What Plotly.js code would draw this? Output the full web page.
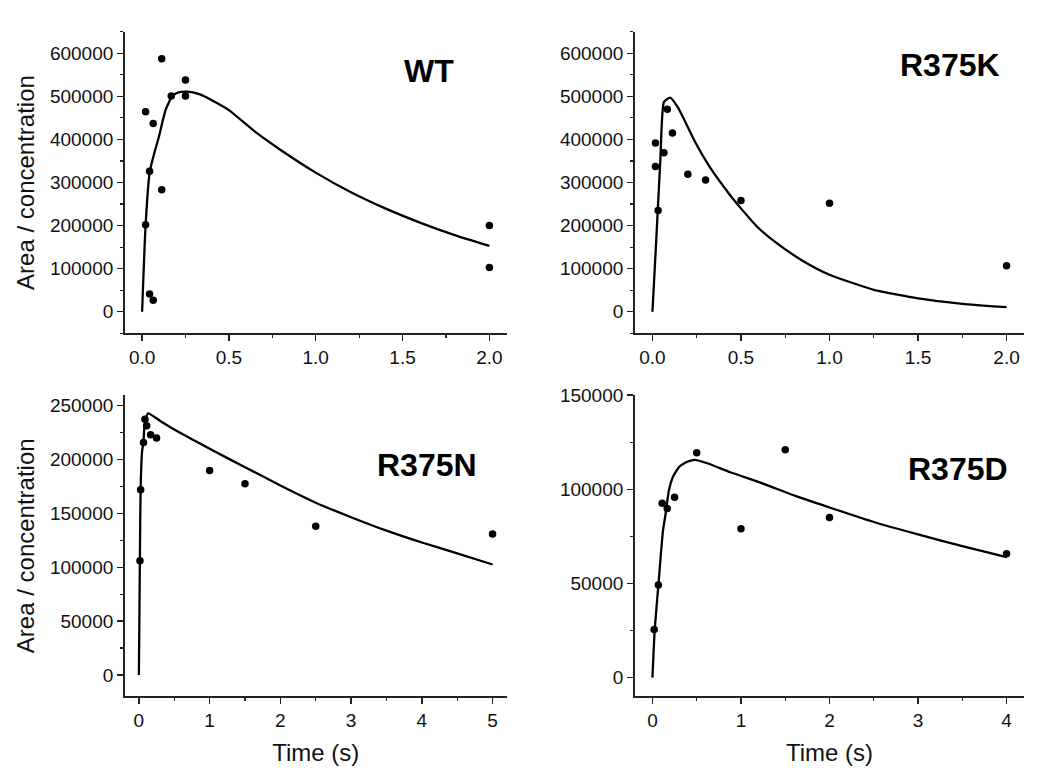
<!DOCTYPE html>
<html>
<head>
<meta charset="utf-8">
<script src="https://cdn.plot.ly/plotly-3.0.1.min.js"></script>
<style>html,body{margin:0;padding:0;background:#fff;}#chart{width:1050px;height:783px;}</style>
</head>
<body>
<div id="chart"></div>
<script>
// ---- WT ----
var wtTime  = [0.02, 0.02, 0.043, 0.043, 0.064, 0.064, 0.113, 0.113, 0.168, 0.25, 0.25, 2.0, 2.0];
var wtValue = [464000, 202000, 326000, 41000, 437000, 27000, 587000, 283000, 501000, 538000, 501000, 200000, 103000];
var wtFitTime  = [0, 0.02, 0.044, 0.07, 0.096, 0.135, 0.173, 0.21, 0.26, 0.33, 0.42, 0.5, 0.65, 0.8, 1.0, 1.2, 1.4, 1.6, 1.8, 2.0];
var wtFitValue = [0, 200000, 325000, 368000, 405000, 468000, 500000, 509000, 511000, 505000, 487000, 468000, 418000, 375000, 323000, 278000, 240000, 207000, 178000, 153000];

// ---- R375K ----
var kTime  = [0.017, 0.017, 0.032, 0.065, 0.084, 0.113, 0.2, 0.3, 0.5, 1.0, 2.0];
var kValue = [392000, 337000, 235000, 369000, 470000, 415000, 319000, 306000, 258000, 252000, 107000];
var kFitTime  = [0, 0.015, 0.03, 0.045, 0.065, 0.1, 0.143, 0.19, 0.236, 0.33, 0.44, 0.5, 0.59, 0.7, 0.85, 1.0, 1.25, 1.5, 1.75, 2.0];
var kFitValue = [0, 115000, 235000, 355000, 487000, 497000, 475000, 437000, 398000, 332000, 270000, 240000, 198000, 160000, 118000, 86000, 51000, 31000, 18500, 10800];

// ---- R375N ----
var nTime  = [0.015, 0.025, 0.065, 0.085, 0.11, 0.165, 0.25, 1.0, 1.5, 2.5, 5.0];
var nValue = [106000, 172000, 216000, 237500, 231500, 223000, 220000, 190000, 177500, 138000, 131000];
var nFitTime  = [0, 0.014, 0.024, 0.045, 0.064, 0.082, 0.13, 0.3, 0.5, 0.75, 1.0, 1.5, 2.0, 2.5, 3.0, 3.5, 4.0, 4.5, 5.0];
var nFitValue = [0, 106000, 172000, 207500, 216000, 233000, 243000, 236000, 228000, 219000, 210000, 193000, 176000, 160000, 146500, 134000, 123000, 113000, 102600];

// ---- R375D ----
var dTime  = [0.02, 0.067, 0.11, 0.167, 0.25, 0.5, 1.0, 1.5, 2.0, 4.0];
var dValue = [25600, 49200, 92500, 89800, 95800, 119300, 79000, 121000, 85000, 65800];
var dFitTime  = [0, 0.026, 0.067, 0.119, 0.149, 0.186, 0.23, 0.305, 0.4, 0.48, 0.62, 0.88, 1.25, 1.62, 2.0, 2.5, 3.0, 3.5, 4.0];
var dFitValue = [0, 25600, 49000, 78000, 87000, 99300, 106400, 112000, 114700, 115600, 113800, 109000, 103000, 96300, 90300, 82600, 76000, 69800, 64000];

var panelLabels = ['WT', 'R375K', 'R375N', 'R375D'];
var yTitle = 'Area / concentration';
var xTitle = 'Time (s)';

var FONT = 'Arial, "Liberation Sans", Helvetica, sans-serif';
var AX = '#222';

function pts(x, y, xa, ya) {
  return {x: x, y: y, xaxis: xa, yaxis: ya, type: 'scatter', mode: 'markers',
          marker: {color: '#000', size: 7.5}, hoverinfo: 'skip'};
}
function fit(x, y, xa, ya) {
  return {x: x, y: y, xaxis: xa, yaxis: ya, type: 'scatter', mode: 'lines',
          line: {color: '#000', width: 2.3, shape: 'spline', smoothing: 0.5}, hoverinfo: 'skip'};
}

var data = [
  fit(wtFitTime, wtFitValue, 'x', 'y'), pts(wtTime, wtValue, 'x', 'y'),
  fit(kFitTime, kFitValue, 'x2', 'y2'), pts(kTime, kValue, 'x2', 'y2'),
  fit(nFitTime, nFitValue, 'x3', 'y3'), pts(nTime, nValue, 'x3', 'y3'),
  fit(dFitTime, dFitValue, 'x4', 'y4'), pts(dTime, dValue, 'x4', 'y4')
];

function axis(opts) {
  var a = {
    showline: true, linecolor: AX, linewidth: 1.6,
    ticks: 'outside', ticklen: 6, tickwidth: 1.4, tickcolor: AX,
    showgrid: false, zeroline: false, mirror: false,
    tickfont: {family: FONT, size: 19, color: '#111'},
    automargin: false, fixedrange: true
  };
  for (var k in opts) a[k] = opts[k];
  return a;
}
function minor(d) { return {dtick: d, ticks: 'outside', ticklen: 3, tickcolor: AX, tickwidth: 1.2}; }
var titleFont = {family: FONT, size: 24, color: '#111'};

var xL = [0.1188, 0.4826], xR = [0.6045, 0.9755];
var yT = [0.5743, 0.9595], yB = [0.1105, 0.4955];

var layout = {
  width: 1050, height: 783,
  margin: {l: 0, r: 0, t: 0, b: 0},
  paper_bgcolor: '#fff', plot_bgcolor: '#fff',
  showlegend: false,
  font: {family: FONT, color: '#111'},
  xaxis: axis({domain: xL, anchor: 'y', range: [-0.1, 2.1], dtick: 0.5, tick0: 0, tickformat: '.1f', minor: minor(0.25)}),
  yaxis: axis({domain: yT, anchor: 'x', range: [-50000, 650000], dtick: 100000, tick0: 0, tickformat: 'd', minor: minor(50000),
               title: {text: yTitle, font: titleFont, standoff: 8}}),
  xaxis2: axis({domain: xR, anchor: 'y2', range: [-0.1, 2.1], dtick: 0.5, tick0: 0, tickformat: '.1f', minor: minor(0.25)}),
  yaxis2: axis({domain: yT, anchor: 'x2', range: [-50000, 650000], dtick: 100000, tick0: 0, tickformat: 'd', minor: minor(50000)}),
  xaxis3: axis({domain: xL, anchor: 'y3', range: [-0.2, 5.2], dtick: 1, tick0: 0, tickformat: 'd', minor: minor(0.5),
               title: {text: xTitle, font: titleFont, standoff: 14}}),
  yaxis3: axis({domain: yB, anchor: 'x3', range: [-20000, 260000], dtick: 50000, tick0: 0, tickformat: 'd', minor: minor(25000),
               title: {text: yTitle, font: titleFont, standoff: 8}}),
  xaxis4: axis({domain: xR, anchor: 'y4', range: [-0.2, 4.2], dtick: 1, tick0: 0, tickformat: 'd', minor: minor(0.5),
               title: {text: xTitle, font: titleFont, standoff: 14}}),
  yaxis4: axis({domain: yB, anchor: 'x4', range: [-10000, 150000], dtick: 50000, tick0: 0, tickformat: 'd', minor: minor(25000)}),
  annotations: [
    {text: '<b>' + panelLabels[0] + '</b>', xref: 'paper', yref: 'paper', x: 0.409, y: 0.909, showarrow: false,
     xanchor: 'center', yanchor: 'middle', font: {family: FONT, size: 32, color: '#000'}},
    {text: '<b>' + panelLabels[1] + '</b>', xref: 'paper', yref: 'paper', x: 0.905, y: 0.9166, showarrow: false,
     xanchor: 'center', yanchor: 'middle', font: {family: FONT, size: 32, color: '#000'}},
    {text: '<b>' + panelLabels[2] + '</b>', xref: 'paper', yref: 'paper', x: 0.4065, y: 0.406, showarrow: false,
     xanchor: 'center', yanchor: 'middle', font: {family: FONT, size: 32, color: '#000'}},
    {text: '<b>' + panelLabels[3] + '</b>', xref: 'paper', yref: 'paper', x: 0.9127, y: 0.4013, showarrow: false,
     xanchor: 'center', yanchor: 'middle', font: {family: FONT, size: 32, color: '#000'}}
  ]
};

Plotly.newPlot('chart', data, layout, {staticPlot: true, displayModeBar: false});
</script>
</body>
</html>
